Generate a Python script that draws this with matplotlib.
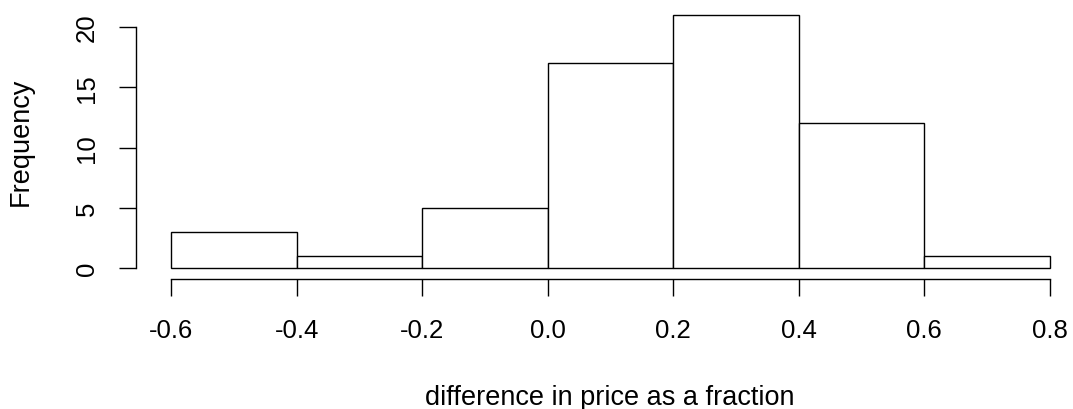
import numpy as np
import matplotlib.pyplot as plt

plt.rcParams['font.family'] = ['Liberation Sans', 'DejaVu Sans']

# histogram of price differences
bin_edges = [-0.6, -0.4, -0.2, 0.0, 0.2, 0.4, 0.6, 0.8]
counts = [3, 1, 5, 17, 21, 12, 1]
x_ticks = [-0.6, -0.4, -0.2, 0.0, 0.2, 0.4, 0.6, 0.8]
x_tick_labels = ['-0.6', '-0.4', '-0.2', '0.0', '0.2', '0.4', '0.6', '0.8']
y_ticks = [0, 5, 10, 15, 20]

W, H = 1073, 410
fig = plt.figure(figsize=(W / 100, H / 100), dpi=100)
ax = fig.add_axes([136 / W, (H - 279) / H, (1085 - 136) / W, (279 - 6) / H])

lefts = np.array(bin_edges[:-1])
widths = np.diff(bin_edges)
ax.bar(lefts, counts, width=widths, align='edge', color='white',
       edgecolor='black', linewidth=1.0)

ax.set_xlim(-0.656, 0.856)
ax.set_ylim(-0.84, 21.84)

for s in ['top', 'right']:
    ax.spines[s].set_visible(False)
ax.spines['left'].set_bounds(0, 20)
ax.spines['bottom'].set_bounds(-0.6, 0.8)
ax.spines['bottom'].set_position(('outward', 1))
for s in ['left', 'bottom']:
    ax.spines[s].set_linewidth(1.0)

ax.set_xticks(x_ticks)
ax.set_xticklabels(x_tick_labels)
ax.set_yticks(y_ticks)
ax.set_yticklabels([str(v) for v in y_ticks], rotation=90, va='center')
ax.tick_params(axis='both', length=12, width=1.0, labelsize=18.5)
ax.tick_params(axis='x', pad=15.5)
ax.tick_params(axis='y', pad=14.5)

fig.text(610 / W, 1 - 405 / H, 'difference in price as a fraction',
         ha='center', va='baseline', fontsize=19.5)
fig.text(21 / W, 1 - 142 / H, 'Frequency', rotation=90,
         ha='center', va='center', fontsize=19.5)

fig.savefig('out.png', dpi=100)
